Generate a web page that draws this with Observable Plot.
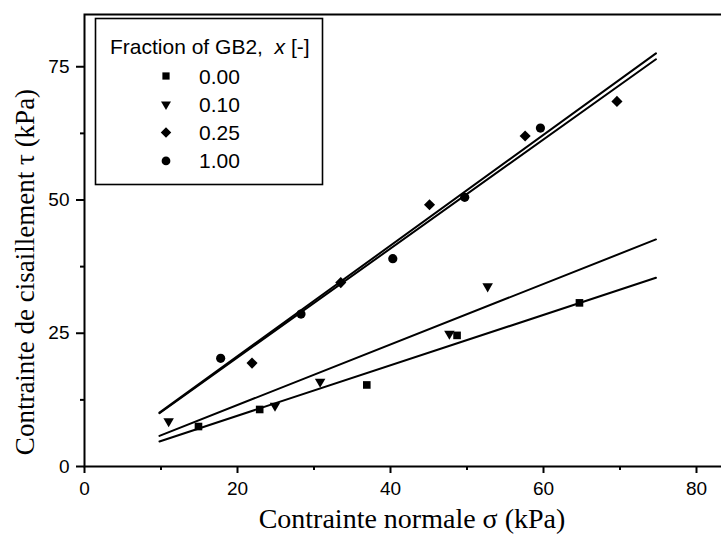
<!DOCTYPE html>
<html>
<head>
<meta charset="utf-8">
<script src="https://cdn.jsdelivr.net/npm/d3@7"></script>
<script src="https://cdn.jsdelivr.net/npm/@observablehq/plot@0.6"></script>
<style>
  html, body { margin: 0; padding: 0; background: #fff; overflow: hidden; }
  #chart { width: 721px; height: 538px; overflow: hidden; position: relative; }
  #chart svg { max-width: none !important; }
</style>
</head>
<body>
<div id="chart"></div>
<script>
// ---- data ----
const fractions = ["0.00", "0.10", "0.25", "1.00"];
const sigma000 = [14.9, 22.9, 36.9, 48.7, 64.7];
const tau000   = [7.5, 10.7, 15.3, 24.6, 30.7];
const sigma010 = [11.0, 24.9, 30.8, 47.7, 52.7];
const tau010   = [8.5, 11.4, 15.9, 24.9, 33.8];
const sigma025 = [21.9, 33.5, 45.1, 57.6, 69.6];
const tau025   = [19.4, 34.5, 49.1, 62.0, 68.5];
const sigma100 = [17.8, 28.3, 40.3, 49.7, 59.6];
const tau100   = [20.3, 28.6, 39.0, 50.5, 63.5];
// fitted lines: endpoints (sigma, tau)
const fitSigma = [9.8, 74.7];
const fit000 = [4.7, 35.4];
const fit010 = [5.75, 42.6];
const fit025 = [10.0, 76.4];
const fit100 = [10.1, 77.5];
const xTicks = [0, 20, 40, 60, 80];
const xMinor = [10, 30, 50, 70];
const yTicks = [0, 25, 50, 75];
const yMinor = [12.5, 37.5, 62.5];
const xTitle = "Contrainte normale σ (kPa)";
const yTitle = "Contrainte de cisaillement τ (kPa)";
const legendTitle = "Fraction of GB2,  ";

// ---- symbols ----
const triDown = {
  draw(context, size) {
    const y = Math.sqrt(size / (Math.sqrt(3) * 3));
    context.moveTo(0, y * 2);
    context.lineTo(-Math.sqrt(3) * y, -y);
    context.lineTo(Math.sqrt(3) * y, -y);
    context.closePath();
  }
};
const symbols = [d3.symbolSquare, triDown, d3.symbolDiamond2, d3.symbolCircle];
const radii = [4.3, 3.9, 5.0, 4.6];

const series = [
  {s: sigma000, t: tau000},
  {s: sigma010, t: tau010},
  {s: sigma025, t: tau025},
  {s: sigma100, t: tau100}
];
const fits = [fit000, fit010, fit025, fit100];

const pts = series.map((d, i) => d.s.map((s, j) => ({sigma: s, tau: d.t[j]})));
const lines = fits.map(f => fitSigma.map((s, j) => ({sigma: s, tau: f[j]})));

const W = 740, H = 538;
const plot = Plot.plot({
  width: W,
  height: H,
  marginLeft: 84,
  marginRight: 0,
  marginTop: 14,
  marginBottom: 72,
  style: {fontFamily: "'Liberation Sans', Arial, sans-serif", fontSize: "19px", color: "#000", background: "#fff", maxWidth: "none"},
  x: {domain: [0, (W - 84) / 7.65]},
  y: {domain: [0, 452 / 5.33]},
  marks: [
    ...lines.map(l => Plot.line(l, {x: "sigma", y: "tau", stroke: "#000", strokeWidth: 2})),
    ...pts.map((p, i) => Plot.dot(p, {x: "sigma", y: "tau", symbol: symbols[i], r: radii[i], fill: "#000", stroke: "none"})),
    Plot.axisX({ticks: xTicks, tickSize: 7, tickPadding: 8, tickFormat: d => String(d), label: null, fontSize: 19, strokeWidth: 2}),
    Plot.axisX({ticks: xMinor, tickSize: 4, tickFormat: null, text: null, label: null, strokeWidth: 2}),
    Plot.axisY({ticks: yTicks, tickSize: 8, tickPadding: 7, tickFormat: d => String(d), label: null, fontSize: 19, strokeWidth: 2}),
    Plot.axisY({ticks: yMinor, tickSize: 4, tickFormat: null, text: null, label: null, strokeWidth: 2}),
    Plot.frame({stroke: "#000", strokeWidth: 2})
  ]
});
document.getElementById("chart").appendChild(plot);

const svg = d3.select(plot);
const ys = plot.scale("y");
const yMid = (ys.range[0] + ys.range[1]) / 2;

// axis titles
svg.append("text")
  .attr("x", 412)
  .attr("y", 528)
  .attr("text-anchor", "middle")
  .attr("font-family", "'Liberation Serif', 'Times New Roman', serif")
  .attr("font-size", 28)
  .attr("fill", "#000")
  .text(xTitle);
svg.append("text")
  .attr("transform", `translate(34,${yMid + 32}) rotate(-90)`)
  .attr("text-anchor", "middle")
  .attr("font-family", "'Liberation Serif', 'Times New Roman', serif")
  .attr("font-size", 27)
  .attr("fill", "#000")
  .text(yTitle);

// legend
const lg = svg.append("g").attr("text-anchor", "start");
lg.append("rect")
  .attr("x", 95.5).attr("y", 18.5).attr("width", 227).attr("height", 166)
  .attr("fill", "#fff").attr("stroke", "#000").attr("stroke-width", 1.6);
const t = lg.append("text")
  .attr("x", 110).attr("y", 54)
  .attr("text-anchor", "start")
  .attr("font-family", "'Liberation Sans', Arial, sans-serif")
  .attr("font-size", 21).attr("fill", "#000");
t.append("tspan").text(legendTitle);
t.append("tspan").attr("font-style", "italic").text("x");
t.append("tspan").text(" [-]");
fractions.forEach((f, i) => {
  const cy = 76 + i * 28.3;
  lg.append("path")
    .attr("transform", `translate(166,${cy})`)
    .attr("d", d3.symbol().type(symbols[i]).size(Math.PI * radii[i] * radii[i] * 0.9)())
    .attr("fill", "#000");
  lg.append("text")
    .attr("x", 199).attr("y", cy + 7.5)
    .attr("text-anchor", "start")
    .attr("font-family", "'Liberation Sans', Arial, sans-serif")
    .attr("font-size", 21).attr("fill", "#000")
    .text(f);
});
</script>
</body>
</html>
